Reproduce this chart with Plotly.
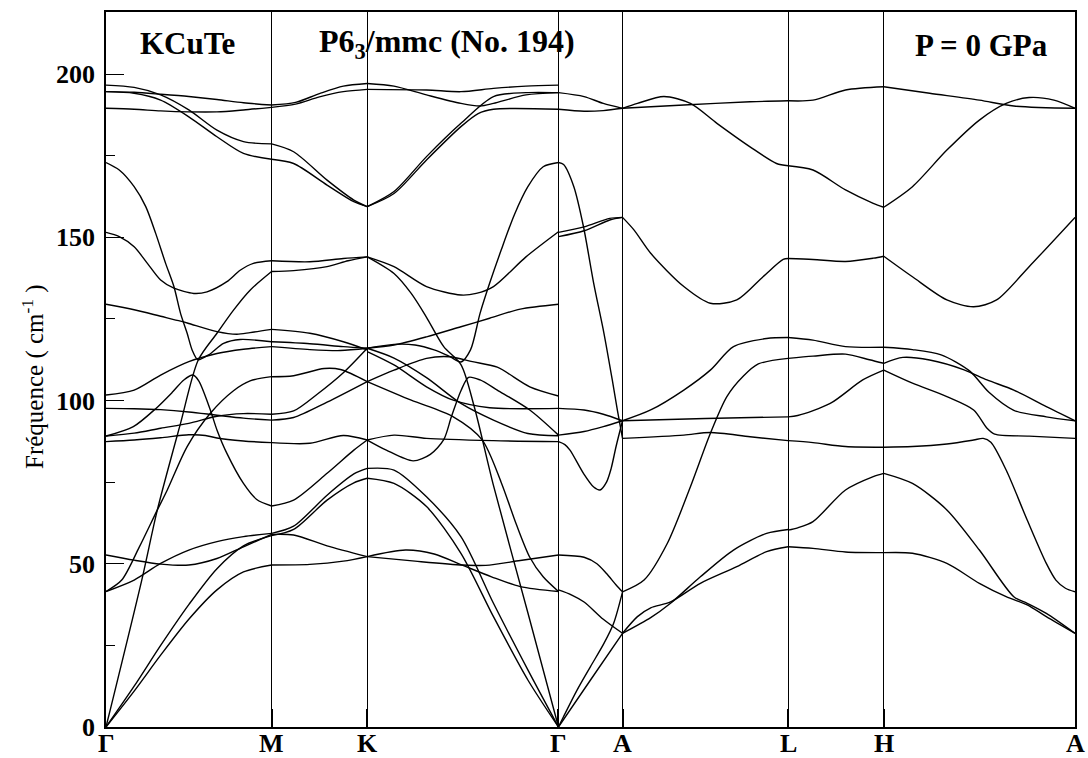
import plotly.graph_objects as go

# High-symmetry points along the path and relative segment lengths (units of |ΓK|)
point_labels = ["Γ", "M", "K", "Γ", "A", "L", "H", "A"]
segment_lengths = [0.866, 0.5, 1.0, 0.335, 0.866, 0.5, 1.0]

# Phonon branches per segment: (fraction along segment, frequency cm^-1)
seg_GM = [
    [(0, 196.6), (.17, 195.9), (.33, 193.6), (.5, 189.0), (.67, 182.8), (.83, 179.3), (1, 178.6)],
    [(0, 194.6), (.17, 194.1), (.33, 192.0), (.5, 186.9), (.67, 180.8), (.83, 175.7), (1, 173.9)],
    [(0, 194.6), (.17, 194.4), (.33, 193.8), (.5, 193.1), (.67, 192.2), (.83, 191.2), (1, 190.5)],
    [(0, 189.5), (.17, 189.2), (.33, 188.7), (.5, 188.4), (.67, 188.4), (.83, 189.0), (1, 189.8)],
    [(0, 172.9), (.08, 170.6), (.17, 165.5), (.24, 159.4), (.30, 151.2), (.36, 142.0), (.41, 134.9),
     (.45, 126.7), (.49, 120.6), (.52, 115.5), (.555, 112.5), (.62, 114.0), (.71, 117.5), (.81, 118.7), (1, 118.0)],
    [(0, 129.5), (.17, 127.8), (.33, 125.8), (.45, 124.3), (.5, 123.6), (.67, 121.1), (.79, 120.3), (.87, 120.8), (1, 121.8)],
    [(0, 151.5), (.08, 150.2), (.17, 147.1), (.25, 142.0), (.33, 136.9), (.41, 134.4), (.53, 132.8), (.61, 133.3),
     (.73, 136.4), (.81, 139.9), (.89, 142.0), (1, 142.8)],
    [(0, 0), (.216, 45), (.31, 66.5), (.45, 93), (.557, 112.4), (.67, 120.6), (.77, 127.7), (.87, 133.8), (1, 139.5)],
    [(0, 101.7), (.17, 103.2), (.33, 107.8), (.5, 111.9), (.67, 114.4), (.83, 115.7), (1, 116.5)],
    [(0, 97.6), (.17, 97.5), (.33, 97.2), (.5, 96.5), (.67, 95.5), (.83, 94.6), (1, 94.0)],
    [(0, 89.1), (.165, 92), (.3, 97.5), (.4, 102.5), (.47, 106.3), (.525, 107.8), (.56, 106), (.63, 97.1),
     (.67, 91), (.73, 83.8), (.83, 74.6), (.91, 69.7), (1, 67.7)],
    [(0, 89.1), (.17, 90.0), (.33, 91.5), (.5, 93.0), (.67, 95.2), (.83, 96.0), (1, 95.8)],
    [(0, 87.4), (.17, 87.9), (.33, 88.6), (.5, 89.5), (.6, 89.3), (.67, 88.5), (.83, 87.6), (1, 87.1)],
    [(0, 52.7), (.17, 51.1), (.33, 49.9), (.5, 49.6), (.67, 51.6), (.83, 55.2), (1, 59.0)],
    [(0, 41.5), (.17, 45), (.33, 50.1), (.5, 54.2), (.67, 56.8), (.83, 58.3), (1, 59.3)],
    [(0, 0), (.17, 11), (.33, 22), (.5, 33), (.67, 42), (.83, 47.5), (1, 49.6)],
    [(0, 0), (.17, 12.5), (.33, 25), (.5, 37.5), (.67, 48.5), (.83, 55.5), (1, 58.6)],
    [(0, 41.5), (.095, 45), (.2, 55), (.31, 66.5), (.37, 72.6), (.49, 85.9), (.63, 96.1), (.77, 103), (.87, 106), (1, 107.3)],
]

seg_MK = [
    [(0, 190.5), (.25, 191.3), (.5, 194), (.75, 196.3), (1, 197.1)],
    [(0, 189.8), (.25, 190.8), (.5, 193), (.75, 194.6), (1, 195.3)],
    [(0, 178.6), (.23, 176.2), (.58, 167.5), (.86, 161.4), (1, 159.4)],
    [(0, 173.9), (.23, 172.6), (.58, 166.0), (.86, 160.9), (1, 159.4)],
    [(0, 142.8), (.4, 142.5), (.75, 143.5), (1, 144.0)],
    [(0, 139.5), (.23, 139.8), (.58, 141), (.8, 142.8), (1, 144.0)],
    [(0, 121.8), (.4, 120.6), (.75, 118), (1, 115.5)],
    [(0, 118.0), (.4, 117.4), (.75, 116.5), (1, 116.0)],
    [(0, 116.5), (.4, 115.6), (.72, 115.3), (1, 116.0)],
    [(0, 95.8), (.23, 96.8), (.48, 102), (.75, 108.5), (1, 116.0)],
    [(0, 94.0), (.23, 94.8), (.58, 99.5), (1, 105.8)],
    [(0, 107.3), (.23, 107.6), (.55, 109.8), (.72, 109.5), (1, 105.8)],
    [(0, 87.1), (.4, 86.9), (.75, 89.3), (1, 87.9)],
    [(0, 67.7), (.23, 69.5), (.58, 77.7), (.86, 84.8), (1, 87.9)],
    [(0, 59.3), (.23, 61.5), (.58, 71), (.86, 77.5), (1, 79.2)],
    [(0, 58.6), (.23, 60.5), (.58, 69.5), (.86, 74.8), (1, 76.2)],
    [(0, 59.0), (.23, 58.8), (.58, 55.5), (1, 52.2)],
    [(0, 49.6), (.4, 49.8), (.75, 50.8), (1, 52.2)],
]

seg_KG = [
    [(0, 197.1), (.14, 196.3), (.31, 193.6), (.49, 191.0), (.59, 190.2), (.66, 191.0), (.83, 193.6), (1, 194.3)],
    [(0, 195.3), (.31, 195.1), (.49, 194.6), (.66, 195.6), (.83, 196.3), (1, 196.6)],
    [(0, 159.4), (.14, 163.4), (.31, 173.7), (.49, 183.9), (.58, 187.9), (.66, 189.2), (1, 189.2)],
    [(0, 159.4), (.14, 164.0), (.31, 174.7), (.49, 184.9), (.66, 193.1), (.83, 194.3), (1, 194.3)],
    [(0, 144.0), (.14, 141.0), (.31, 134.9), (.49, 132.3), (.57, 132.8), (.66, 134.9), (.83, 144.0), (1, 151.7)],
    [(0, 144), (.14, 138.9), (.23, 132.8), (.31, 125.5), (.4, 116.5), (.49, 111), (.56, 98), (.66, 74), (.84, 35), (1, 0)],
    [(0, 116), (.14, 117), (.31, 119.5), (.49, 122.6), (.64, 125.2), (.8, 128), (1, 129.5)],
    [(0, 116), (.14, 117.2), (.25, 117), (.35, 115.5), (.43, 113.5), (.49, 111.8), (.54, 115.5), (.59, 126.7),
     (.64, 135.9), (.7, 146), (.77, 157), (.84, 165.5), (.92, 171.6), (1, 172.9)],
    [(0, 115), (.14, 110.9), (.31, 104.2), (.45, 100.1), (.64, 97.8), (1, 97.6)],
    [(0, 105.8), (.14, 109.3), (.31, 112.9), (.43, 113.4), (.55, 111.9), (.68, 110.2), (.85, 104.2), (1, 101.4)],
    [(0, 116), (.14, 113), (.31, 107), (.49, 99.1), (.66, 94.0), (.84, 89.9), (1, 89.2)],
    [(0, 105.8), (.23, 100.1), (.45, 95), (.6, 88), (.7, 75), (.78, 62), (.85, 52), (.92, 46), (1, 41.5)],
    [(0, 87.9), (.14, 89.4), (.31, 88.4), (.66, 87.7), (1, 87.4)],
    [(0, 87.9), (.1, 84.8), (.24, 81.5), (.33, 83.5), (.4, 88), (.44, 95), (.49, 103), (.53, 107.1),
     (.59, 106.3), (.68, 103.2), (.85, 97.1), (1, 89.4)],
    [(0, 79.2), (.14, 78.7), (.31, 70.5), (.49, 58.3), (.66, 37.9), (.84, 17.5), (1, 0)],
    [(0, 76.2), (.14, 74.6), (.31, 67.5), (.49, 53.2), (.66, 33.8), (.84, 14.4), (1, 0)],
    [(0, 52.2), (.2, 54.2), (.35, 53), (.5, 49.5), (.65, 46), (.8, 43), (1, 41.5)],
    [(0, 52.2), (.25, 50.8), (.5, 49.6), (.62, 49.5), (.8, 51), (1, 52.7)],
]

seg_GA = [
    [(0, 194.3), (.4, 193.1), (.7, 191), (1, 189.5)],
    [(0, 189.2), (.4, 188.6), (.7, 188.8), (1, 189.5)],
    [(0, 172.9), (.08, 172.3), (.24, 165.5), (.39, 153.3), (.55, 135.9), (.71, 120.6), (.84, 106.3), (.92, 97), (1, 88.4)],
    [(0, 151.5), (.4, 153.2), (.8, 155.8), (1, 156.1)],
    [(0, 150.2), (.4, 152.0), (.8, 155.3), (1, 156.1)],
    [(0, 97.6), (.4, 97.1), (.7, 95.8), (1, 93.8)],
    [(0, 89.4), (.4, 90.5), (.7, 92), (1, 93.8)],
    [(0, 87.4), (.1, 86.5), (.18, 84.8), (.39, 77.7), (.55, 73.5), (.65, 72.6), (.75, 75), (.82, 79), (.9, 86), (1, 93.8)],
    [(0, 52.7), (.4, 52.0), (.6, 50), (.75, 47), (.9, 43.5), (1, 41.4)],
    [(0, 42), (.2, 40.5), (.4, 38.3), (.7, 33), (1, 28.7)],
    [(0, 0), (.08, 3.2), (.29, 11.3), (.5, 18.5), (.71, 25.6), (.86, 31.7), (1, 41.4)],
    [(0, 0), (.5, 14.4), (1, 28.7)],
]

seg_AL = [
    [(0, 189.5), (.09, 191), (.25, 193.1), (.41, 191), (.57, 184.9), (.77, 177.7), (.93, 172.6), (1, 171.9)],
    [(0, 189.5), (.37, 190.5), (.77, 191.5), (1, 191.8)],
    [(0, 156.1), (.07, 152.2), (.17, 145.1), (.37, 134.9), (.53, 129.8), (.69, 130.8), (.85, 138), (.97, 143.2), (1, 143.5)],
    [(0, 93.8), (.17, 97.1), (.37, 103.2), (.53, 109.3), (.67, 116.5), (.87, 119), (1, 119.3)],
    [(0, 93.8), (.5, 94.5), (1, 95.0)],
    [(0, 88.4), (.37, 89.4), (.53, 90.2), (.77, 88.9), (1, 87.7)],
    [(0, 41.4), (.13, 45), (.27, 56.2), (.41, 73.6), (.53, 89.9), (.63, 101.2), (.73, 107.5), (.82, 111.2), (1, 112.9)],
    [(0, 28.7), (.17, 33.5), (.29, 37.9), (.47, 46), (.67, 54.2), (.87, 59.3), (1, 60.5)],
    [(0, 28.7), (.09, 33.8), (.17, 36.5), (.29, 38.3), (.47, 44), (.69, 49.1), (.87, 53.7), (1, 55.2)],
]

seg_LH = [
    [(0, 191.8), (.26, 192), (.6, 195.1), (1, 196.1)],
    [(0, 171.9), (.26, 170.6), (.6, 164.5), (.89, 160.4), (1, 159.2)],
    [(0, 143.5), (.26, 143.2), (.6, 142.6), (.89, 143.6), (1, 144.2)],
    [(0, 119.3), (.26, 118.5), (.6, 116.5), (1, 116.3)],
    [(0, 112.9), (.26, 113.6), (.6, 114.2), (.85, 112.5), (1, 111.4)],
    [(0, 95.0), (.1, 95.4), (.44, 99.1), (.78, 106.3), (1, 109.3)],
    [(0, 87.7), (.26, 87.1), (.6, 85.9), (1, 85.7)],
    [(0, 60.3), (.1, 61), (.26, 62.9), (.6, 72.6), (.89, 76.7), (1, 77.7)],
    [(0, 55.2), (.26, 54.7), (.6, 53.6), (1, 53.4)],
]

seg_HA = [
    [(0, 196.1), (.24, 194.1), (.5, 192), (.68, 190.2), (1, 189.5)],
    [(0, 159.2), (.15, 165.5), (.33, 176.7), (.5, 185.9), (.64, 191), (.76, 192.8), (.89, 192), (1, 189.5)],
    [(0, 144.2), (.15, 137.9), (.33, 130.8), (.47, 128.7), (.59, 130.8), (.76, 141), (1, 156.1)],
    [(0, 109.3), (.15, 105.3), (.33, 101.2), (.47, 97.1), (.54, 91.5), (.58, 89.7), (.76, 89.1), (1, 88.4)],
    [(0, 116.3), (.15, 115.6), (.3, 114), (.45, 109), (.55, 102.5), (.68, 97), (.85, 95), (1, 93.8)],
    [(0, 111.4), (.1, 113.2), (.24, 112.4), (.42, 109.4), (.54, 106.3), (.68, 103.2), (.85, 98.1), (1, 93.8)],
    [(0, 85.7), (.15, 85.9), (.33, 86.7), (.47, 87.9), (.52, 88.4), (.56, 87.2), (.64, 78.7), (.75, 63.4),
     (.85, 50.1), (.9, 45), (.95, 42.5), (1, 41.4)],
    [(0, 77.7), (.15, 74.6), (.33, 66.5), (.5, 54.2), (.68, 39.9), (.75, 37.9), (.85, 34.8), (1, 28.7)],
    [(0, 53.4), (.15, 53.2), (.33, 50.1), (.5, 44), (.64, 39.9), (.75, 37.4), (.85, 33.8), (1, 28.7)],
]

segments = [seg_GM, seg_MK, seg_KG, seg_GA, seg_AL, seg_LH, seg_HA]

y_ticks = [0, 50, 100, 150, 200]
y_minor_ticks = [25, 75, 125, 175]
y_max = 219

kpos = [0.0]
for seg_len in segment_lengths:
    kpos.append(kpos[-1] + seg_len)

fig = go.Figure()
for s, branches in enumerate(segments):
    x0, seg_len = kpos[s], segment_lengths[s]
    for br in branches:
        xs = [x0 + f * seg_len for f, _ in br]
        ys = [w for _, w in br]
        fig.add_trace(go.Scatter(
            x=xs, y=ys, mode="lines",
            line=dict(color="black", width=1.4, shape="spline", smoothing=0.8),
            hoverinfo="skip", showlegend=False))

serif = "Liberation Serif, Times New Roman, serif"

fig.update_layout(
    width=1088, height=758,
    margin=dict(l=106, r=13, t=12, b=31),
    paper_bgcolor="white", plot_bgcolor="white",
    font=dict(family=serif, color="black"),
    showlegend=False,
)
fig.update_xaxes(
    range=[0, kpos[-1]], tickmode="array", tickvals=kpos, showticklabels=False,
    showgrid=True, gridcolor="black", gridwidth=1,
    showline=True, linecolor="black", linewidth=1.5, mirror=True,
    ticks="inside", ticklen=18, tickwidth=1.5, tickcolor="black",
    zeroline=False, automargin=False,
)
fig.update_yaxes(
    range=[0, y_max], tickmode="array", tickvals=y_ticks,
    showgrid=False, showline=True, linecolor="black", linewidth=1.5, mirror=True,
    ticks="inside", ticklen=18, tickwidth=1.2, tickcolor="black",
    minor=dict(ticks="inside", ticklen=9, tickwidth=1.2, tickcolor="black", tickvals=y_minor_ticks),
    tickfont=dict(family=serif, size=26, color="black", weight="bold"),
    ticklabelstandoff=4,
    zeroline=False, automargin=False,
)

# k-point labels below the axis
for xk, lab in zip(kpos, point_labels):
    fig.add_annotation(text=lab, x=xk, xref="x", y=-0.0224, yref="paper",
                       xanchor="center", yanchor="middle", showarrow=False,
                       font=dict(family=serif, size=26, color="black", weight="bold"))

fig.add_annotation(text="Fréquence ( cm<sup>-1</sup> )", textangle=-90,
                   xref="paper", yref="paper", x=-0.075, y=0.49,
                   xanchor="center", yanchor="middle", showarrow=False,
                   font=dict(family=serif, size=25, color="black"))
fig.add_annotation(text="KCuTe", xref="paper", yref="paper", x=0.0836, y=0.956,
                   xanchor="center", yanchor="middle", showarrow=False,
                   font=dict(family=serif, size=31, color="black", weight="bold"))
fig.add_annotation(text="P6<sub>3</sub>/mmc (No. 194)", xref="paper", yref="paper", x=0.352, y=0.956,
                   xanchor="center", yanchor="middle", showarrow=False,
                   font=dict(family=serif, size=32, color="black", weight="bold"))
fig.add_annotation(text="P = 0 GPa", xref="paper", yref="paper", x=0.904, y=0.953,
                   xanchor="center", yanchor="middle", showarrow=False,
                   font=dict(family=serif, size=31, color="black", weight="bold"))

fig.write_html("out.html")
